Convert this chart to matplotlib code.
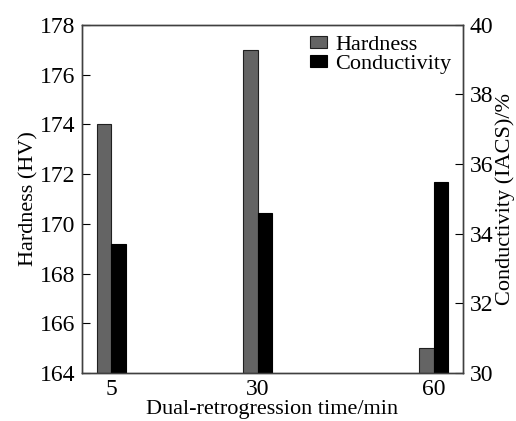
import matplotlib.pyplot as plt
import numpy as np

plt.rcParams['font.family'] = ['Liberation Serif', 'DejaVu Serif']

# данные
times = [5, 30, 60]
hardness = [174.0, 177.0, 165.0]
conductivity = [33.7, 34.6, 35.5]
hard_ticks = [164, 166, 168, 170, 172, 174, 176, 178]
cond_ticks = [30, 32, 34, 36, 38, 40]


def main():
    fig = plt.figure(figsize=(5.16, 4.21), dpi=100)
    ax = fig.add_axes([0.159, 0.114, 0.738, 0.827])
    ax2 = ax.twinx()

    w = 2.5
    x = np.array(times, dtype=float)
    b1 = ax.bar(x - w / 2, np.array(hardness) - 164, width=w, bottom=164,
                color='#646464', edgecolor='#202020', linewidth=0.8, label='Hardness')
    b2 = ax2.bar(x + w / 2, np.array(conductivity) - 30, width=w, bottom=30,
                 color='black', edgecolor='black', linewidth=0.8, label='Conductivity')

    ax.set_xlim(0, 65)
    ax.set_ylim(164, 178)
    ax2.set_ylim(30, 40)
    ax.set_xticks(times)
    ax.set_xticklabels([str(t) for t in times], fontsize=17)
    ax.set_yticks(hard_ticks)
    ax.set_yticklabels([str(t) for t in hard_ticks], fontsize=17)
    ax2.set_yticks(cond_ticks)
    ax2.set_yticklabels([str(t) for t in cond_ticks], fontsize=17)

    ax.tick_params(axis='x', length=0, pad=4)
    ax.tick_params(axis='y', direction='in', length=6, width=0.8, pad=5)
    ax2.tick_params(axis='y', direction='in', length=6, width=0.8, pad=5)
    for a in (ax, ax2):
        for s in a.spines.values():
            s.set_color('#404040')
            s.set_linewidth(1.0)

    ax.set_xlabel('Dual-retrogression time/min', fontsize=16, labelpad=0)
    ax.set_ylabel('Hardness (HV)', fontsize=16, labelpad=1)
    ax2.set_ylabel('Conductivity (IACS)/%', fontsize=16, labelpad=1)

    ax2.legend([b1, b2], ['Hardness', 'Conductivity'], loc='upper right',
               frameon=False, fontsize=16, handlelength=0.75, handleheight=0.4,
               handletextpad=0.4, labelspacing=0.0, borderaxespad=0.3,
               borderpad=0.2)

    fig.savefig('out.png', dpi=100)


if __name__ == '__main__':
    main()
